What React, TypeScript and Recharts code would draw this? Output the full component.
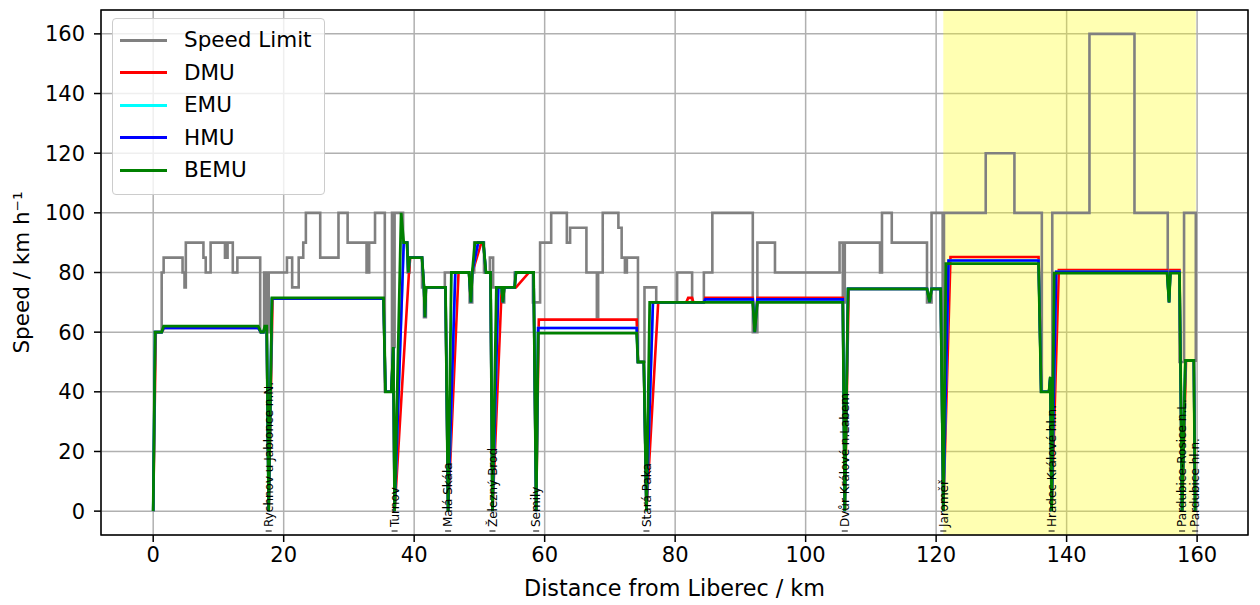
import React from 'react';
import { LineChart, Line, XAxis, YAxis, CartesianGrid, ReferenceArea, ReferenceLine, Legend } from 'recharts';

type Pt = [number, number];

// speed limit, stepped: [km where it starts, km/h]
const limitProfile: Pt[] = [
  [0, 60], [1.3, 80], [1.6, 85], [4.5, 80], [4.8, 75], [5.0, 90], [7.7, 85], [8.05, 80], [8.8, 90],
  [11.0, 85], [11.4, 90], [12.2, 80], [12.9, 85], [16.4, 60], [17.0, 80], [17.3, 60], [17.7, 80],
  [20.5, 85], [21.3, 75], [22.3, 85], [23.0, 90], [23.4, 100], [25.6, 85], [28.4, 100], [29.8, 90],
  [32.7, 80], [33.1, 90], [34.0, 100], [35.5, 40], [36.6, 100], [36.8, 55], [37.0, 100], [38.3, 90],
  [39.0, 80], [39.3, 85], [41.2, 75], [41.5, 65], [41.8, 75], [44.7, 80], [48.5, 70], [48.9, 80],
  [49.2, 90], [50.7, 80], [51.6, 85], [52.1, 75], [53.5, 70], [53.8, 75], [55.4, 80], [58.2, 70],
  [59.3, 90], [61.0, 100], [63.4, 90], [63.9, 95], [66.4, 80], [68.0, 65], [68.2, 80], [68.9, 100],
  [71.3, 95], [71.8, 85], [72.3, 80], [72.6, 85], [74.3, 50], [75.3, 75], [77.1, 70], [80.3, 80],
  [82.6, 70], [84.4, 80], [85.7, 100], [91.9, 60], [92.6, 90], [95.3, 80], [105.2, 90], [105.7, 70],
  [106.0, 90], [111.4, 80], [111.7, 100], [113.2, 90], [118.6, 70], [119.3, 100], [121.0, 40],
  [121.2, 100], [127.6, 120], [132.0, 100], [136.2, 40], [137.8, 100], [143.5, 160], [150.4, 100],
  [155.5, 80], [157.3, 50], [158.0, 100], [159.8, 50],
];

const dmuProfile: Pt[] = [
  [0, 0], [0.4, 60], [1.3, 60], [1.7, 61.4], [16.1, 61.4], [16.5, 60], [16.9, 60], [17.1, 61.4], [17.4, 61.4],
  [17.7, 0], [18.3, 71.2], [35.3, 71.2], [35.6, 40], [36.5, 40], [36.8, 55], [37.0, 0], [39.2, 80], [39.4, 85],
  [41.2, 85], [41.5, 75], [41.65, 65], [41.8, 75], [44.8, 75], [45.2, 0], [46.8, 80], [48.4, 80], [48.7, 70],
  [48.9, 80], [50.3, 90], [50.6, 90], [51.0, 80], [51.7, 80], [52.0, 0], [53.4, 74], [53.6, 70], [53.8, 75],
  [55.6, 75], [57.6, 80], [58.3, 80], [58.7, 0], [59.1, 64.2], [74.1, 64.2], [74.3, 50], [75.2, 50], [75.6, 0],
  [77.4, 70], [81.7, 70], [82.0, 71.5], [82.6, 71.5], [82.8, 70], [84.4, 70], [84.6, 71.5], [91.9, 71.5],
  [92.2, 60], [92.6, 71.5], [105.7, 71.5], [106.0, 0], [106.6, 74.5], [118.6, 74.5], [119.0, 70], [119.3, 74.5],
  [120.7, 74.5], [121.1, 0], [122.2, 85.2], [135.7, 85.2], [136.1, 40], [137.3, 40], [137.5, 45], [137.7, 0],
  [138.8, 80.8], [155.4, 80.8], [155.7, 70], [155.9, 80.8], [157.3, 80.8], [157.7, 0], [158.3, 50.5],
  [159.5, 50.5], [159.7, 0],
];

const hmuProfile: Pt[] = [
  [0, 0], [0.3, 60], [1.3, 60], [1.6, 61.4], [16.1, 61.4], [16.5, 60], [16.9, 60], [17.1, 61.4], [17.4, 61.4],
  [17.7, 0], [18.2, 71.2], [35.3, 71.2], [35.6, 40], [36.5, 40], [36.8, 55], [37.0, 0], [38.4, 90], [38.9, 90],
  [39.1, 80], [39.3, 85], [41.2, 85], [41.5, 75], [41.65, 65], [41.8, 75], [44.8, 75], [45.2, 0], [46.3, 80],
  [48.4, 80], [48.7, 70], [48.9, 80], [49.8, 90], [50.6, 90], [51.0, 80], [51.7, 80], [52.0, 0], [52.9, 75],
  [53.4, 75], [53.6, 70], [53.8, 75], [55.4, 75], [55.6, 80], [58.3, 80], [58.7, 0], [59.0, 61.4], [74.1, 61.4],
  [74.3, 50], [75.2, 50], [75.6, 0], [76.6, 70], [84.4, 70], [84.6, 71], [91.9, 71], [92.2, 60], [92.6, 71],
  [105.7, 71], [106.0, 0], [106.5, 74.5], [118.6, 74.5], [119.0, 70], [119.3, 74.5], [120.7, 74.5], [121.1, 0],
  [121.9, 84], [135.7, 84], [136.1, 40], [137.3, 40], [137.5, 45], [137.7, 0], [138.4, 80.2], [155.4, 80.2],
  [155.7, 70], [155.9, 80.2], [157.3, 80.2], [157.7, 0], [158.2, 50.5], [159.5, 50.5], [159.7, 0],
];

// EMU never shows in the plot: it runs the same as HMU and sits underneath it
const emuProfile: Pt[] = hmuProfile;

const bemuProfile: Pt[] = [
  [0, 0], [0.3, 60], [1.3, 60], [1.6, 62], [16.1, 62], [16.5, 60], [16.9, 60], [17.1, 62], [17.4, 62],
  [17.7, 0], [18.2, 71.5], [35.3, 71.5], [35.6, 40], [36.5, 40], [36.8, 55], [37.0, 0], [38.0, 100], [38.4, 90],
  [38.9, 90], [39.1, 80], [39.3, 85], [41.2, 85], [41.5, 75], [41.65, 65], [41.8, 75], [44.8, 75], [45.2, 0],
  [45.7, 80], [48.4, 80], [48.7, 70], [48.9, 80], [49.3, 90], [50.6, 90], [51.0, 80], [51.7, 80], [52.0, 0],
  [52.6, 75], [53.4, 75], [53.6, 70], [53.8, 75], [55.4, 75], [55.6, 80], [58.3, 80], [58.7, 0], [59.0, 59.7],
  [74.1, 59.7], [74.3, 50], [75.2, 50], [75.6, 0], [76.1, 70], [91.9, 70], [92.2, 60], [92.6, 70], [105.7, 70],
  [106.0, 0], [106.5, 74.5], [118.6, 74.5], [119.0, 70], [119.3, 74.5], [120.7, 74.5], [121.1, 0], [121.5, 83],
  [135.7, 83], [136.1, 40], [137.3, 40], [137.5, 45], [137.7, 0], [138.1, 79.8], [155.4, 79.8], [155.7, 70],
  [155.9, 79.8], [157.3, 79.8], [157.7, 0], [158.2, 50.5], [159.5, 50.5], [159.7, 0],
];

const stationKm = [17.7, 37.0, 45.2, 52.0, 58.7, 75.6, 106.0, 121.1, 137.7, 157.7, 159.7];
const stationNames = [
  'Rychnov u Jablonce n.N.', 'Turnov', 'Malá Skála', 'Železný Brod', 'Semily', 'Stará Paka',
  'Dvůr Králové n.Labem', 'Jaroměř', 'Hradec Králové hl.n.', 'Pardubice-Rosice n.L.', 'Pardubice hl.n.',
];

// non-electrified stretch, shaded
const shadedFrom = 121.1;
const shadedTo = 159.8;

const xTicks = [0, 20, 40, 60, 80, 100, 120, 140, 160];
const yTicks = [0, 20, 40, 60, 80, 100, 120, 140, 160];
const xDomain: [number, number] = [-8, 167.8];
const yDomain: [number, number] = [-8, 168];

const FONT = 'DejaVu Sans';

const series = [
  { name: 'Speed Limit', color: '#808080', points: limitProfile, step: true, width: 2.6 },
  { name: 'DMU', color: '#ff0000', points: dmuProfile, step: false, width: 2.6 },
  { name: 'EMU', color: '#00ffff', points: emuProfile, step: false, width: 2.6 },
  { name: 'HMU', color: '#0000ff', points: hmuProfile, step: false, width: 2.6 },
  { name: 'BEMU', color: '#008000', points: bemuProfile, step: false, width: 2.8 },
];

const toRows = (pts: Pt[]) => pts.map(([km, speed]) => ({ km, speed }));

const stationLabel = (name: string) => (props: any) => {
  const vb = props.viewBox || {};
  const x = vb.x ?? 0;
  const bottom = (vb.y ?? 0) + (vb.height ?? 0);
  return (
    <g>
      <line x1={x - 3} x2={x + 3} y1={bottom - 4} y2={bottom - 4} stroke="#000" strokeWidth={1} />
      <text
        transform={`translate(${x + 4.3},${bottom - 8}) rotate(-90)`}
        fontSize={12}
        fontFamily={FONT}
        fill="#000"
      >
        {name}
      </text>
    </g>
  );
};

const LegendBox = () => (
  <div
    style={{
      width: 211,
      height: 170,
      border: '1px solid #cccccc',
      borderRadius: 4,
      background: 'rgba(255,255,255,0.8)',
      fontFamily: FONT,
      fontSize: 21.5,
      color: '#000',
      paddingTop: 5,
      boxSizing: 'content-box',
    }}
  >
    {series.map((s) => (
      <div key={s.name} style={{ display: 'flex', alignItems: 'center', height: 32.5 }}>
        <span style={{ display: 'inline-block', width: 47, height: 3, background: s.color, marginLeft: 7 }} />
        <span style={{ marginLeft: 17, lineHeight: '32.5px' }}>{s.name}</span>
      </div>
    ))}
  </div>
);

export default function App() {
  return (
    <div style={{ position: 'absolute', left: 0, top: 0, background: '#fff' }}>
      <LineChart width={1260} height={605} margin={{ top: 10, right: 12, bottom: 0, left: 0 }}>
        <ReferenceArea x1={shadedFrom} x2={shadedTo} y1={yDomain[0]} y2={yDomain[1]} fill="#ffff00" fillOpacity={0.3} stroke="none" />
        <CartesianGrid stroke="#b0b0b0" strokeWidth={1.5} />
        <XAxis
          type="number"
          dataKey="km"
          domain={xDomain}
          ticks={xTicks}
          allowDataOverflow
          height={70}
          axisLine={false}
          tickSize={7}
          tickMargin={5}
          tickLine={{ stroke: '#000', strokeWidth: 1.5 }}
          tick={{ fontSize: 21, fill: '#000', fontFamily: FONT }}
          label={() => (
            <text x={674.5} y={596} textAnchor="middle" fontSize={22.3} fontFamily={FONT} fill="#000">
              Distance from Liberec / km
            </text>
          )}
        />
        <YAxis
          type="number"
          domain={yDomain}
          ticks={yTicks}
          allowDataOverflow
          width={101}
          axisLine={false}
          tickSize={7}
          tickMargin={9}
          tickLine={{ stroke: '#000', strokeWidth: 1.5 }}
          tick={{ fontSize: 21, fill: '#000', fontFamily: FONT }}
          label={() => (
            <text
              transform="translate(29,272.5) rotate(-90)"
              textAnchor="middle"
              fontSize={21.5}
              fontFamily={FONT}
              fill="#000"
            >
              Speed / km h⁻¹
            </text>
          )}
        />
        {series.map((s) => (
          <Line
            key={s.name}
            name={s.name}
            data={toRows(s.points)}
            dataKey="speed"
            type={s.step ? 'stepAfter' : 'linear'}
            stroke={s.color}
            strokeWidth={s.width}
            dot={false}
            activeDot={false}
            isAnimationActive={false}
          />
        ))}
        {stationKm.map((km, i) => (
          <ReferenceLine key={stationNames[i]} x={km} stroke="none" label={stationLabel(stationNames[i])} />
        ))}
        <ReferenceArea x1={xDomain[0]} x2={xDomain[1]} y1={yDomain[0]} y2={yDomain[1]} fill="none" stroke="#000" strokeWidth={1.5} />
        <Legend
          layout="vertical"
          align="center"
          verticalAlign="middle"
          wrapperStyle={{ left: 112, top: 18, width: 213, height: 177 }}
          content={() => <LegendBox />}
        />
      </LineChart>
    </div>
  );
}
